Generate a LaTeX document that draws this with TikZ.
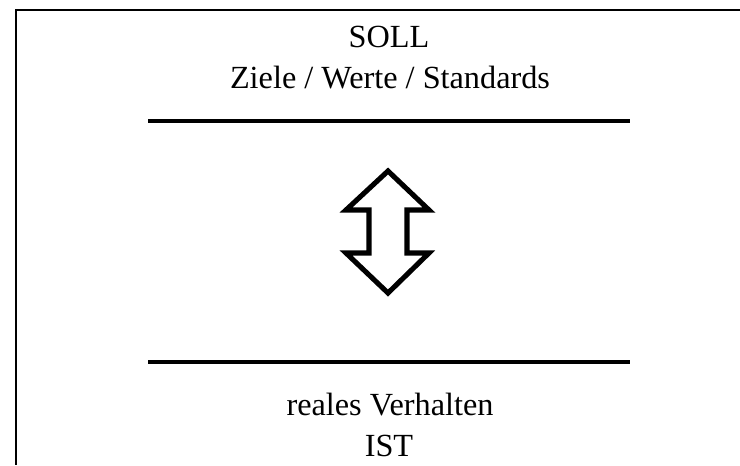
\documentclass[tikz,border=0pt]{standalone}
\usepackage{fontspec}
\setmainfont{Liberation Serif}
\begin{document}
\begin{tikzpicture}[x=0.75pt,y=-0.75pt,
  txt/.style={anchor=base,inner sep=0pt,font=\fontsize{24.2}{29}\selectfont},
  rule/.style={line width=3pt},
  frame/.style={line width=2pt},
  dblarrow/.style={line width=3.8pt,line join=miter,miter limit=10}]
\useasboundingbox (0,0) rectangle (740,465);
\coordinate (ftr) at (740,10);
\coordinate (ftl) at (16,10);
\coordinate (fbl) at (16,465);
\draw[frame] (ftr) -- (ftl) -- (fbl);
\node[txt] (soll) at (389,47) {SOLL};
\node[txt] (ziele) at (390,88) {Ziele / Werte / Standards};
\coordinate (r1a) at (148,121);
\coordinate (r1b) at (630,121);
\draw[rule] (r1a) -- (r1b);
\coordinate (r2a) at (148,362);
\coordinate (r2b) at (630,362);
\draw[rule] (r2a) -- (r2b);
\draw[dblarrow] (388,171) -- (429,210) -- (407,210) -- (407,253) -- (429,253)
  -- (388,293) -- (346,253) -- (369,253) -- (369,210) -- (346,210) -- cycle;
\node[txt] (reales) at (390,415) {reales Verhalten};
\node[txt] (ist) at (389,456) {IST};
\end{tikzpicture}
\end{document}
